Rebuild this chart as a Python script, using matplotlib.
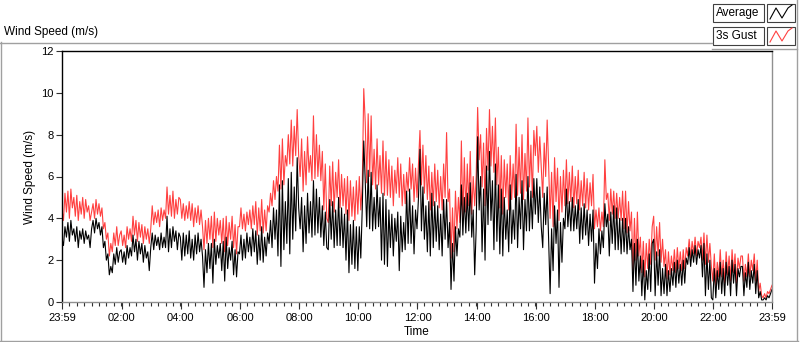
import numpy as np
import matplotlib
matplotlib.use("Agg")
from matplotlib import pyplot as plt
from matplotlib.lines import Line2D
from matplotlib.patches import Rectangle

plt.rcParams['font.family'] = ['Liberation Sans', 'DejaVu Sans']

# samples every 3 minutes, starting at 23:59 of the day before (one row = one hour)
minutes = np.arange(0, 1441, 3)

gust = [
    4.4, 3.9, 5.2, 4.3, 5.3, 4.0, 5.4, 4.5, 5.0, 4.1, 5.1, 3.9, 4.8, 4.2, 5.0, 4.0, 4.9, 4.3, 4.6, 3.9,
    4.3, 4.7, 4.0, 4.9, 4.2, 4.7, 4.1, 4.5, 3.5, 3.8, 3.0, 3.3, 2.2, 2.8, 2.4, 3.3, 2.7, 3.6, 2.7, 3.2,
    3.4, 2.7, 3.2, 2.6, 3.6, 3.0, 3.5, 2.9, 4.1, 3.2, 3.9, 2.9, 3.8, 3.1, 3.7, 2.8, 3.6, 3.0, 3.5, 2.8,
    3.5, 4.6, 3.7, 4.3, 3.8, 4.4, 3.6, 4.5, 3.9, 4.4, 4.0, 5.5, 4.2, 5.1, 4.1, 5.3, 4.0, 4.9, 4.2, 5.0,
    4.9, 4.0, 4.7, 3.9, 4.6, 4.0, 4.8, 3.9, 4.7, 3.6, 4.5, 3.8, 4.6, 3.7, 4.4, 3.6, 2.5, 3.9, 2.8, 4.0,
    3.0, 4.1, 2.6, 4.3, 2.9, 4.0, 3.2, 3.9, 2.8, 4.0, 2.4, 4.1, 2.7, 3.8, 3.0, 4.1, 2.6, 3.7, 2.3, 3.6,
    3.6, 4.5, 3.5, 4.2, 3.4, 4.3, 3.7, 4.4, 3.5, 4.6, 3.7, 4.8, 3.2, 4.5, 3.4, 4.9, 3.3, 4.4, 3.4, 4.6,
    4.3, 5.2, 4.6, 5.8, 4.9, 6.0, 5.3, 7.5, 5.4, 7.8, 5.6, 7.0, 6.5, 8.0, 6.6, 8.7, 6.5, 8.4, 7.0, 9.2,
    7.0, 6.0, 7.8, 5.3, 7.2, 5.6, 7.9, 6.2, 7.0, 5.8, 8.9, 5.9, 8.0, 6.0, 7.5, 5.8, 7.2, 4.4, 6.6, 4.0,
    3.8, 6.5, 4.6, 6.7, 4.3, 6.2, 5.0, 6.8, 4.5, 6.1, 4.6, 5.9, 4.2, 6.0, 3.9, 5.8, 4.1, 5.5, 3.9, 5.8,
    4.2, 6.0, 4.4, 5.6, 10.2, 8.6, 5.7, 9.0, 6.0, 8.9, 5.6, 7.3, 5.4, 7.8, 5.6, 7.0, 5.2, 7.7, 5.1, 7.2,
    5.1, 6.8, 5.0, 6.5, 4.6, 6.3, 5.2, 6.9, 5.0, 6.6, 4.6, 6.1, 4.7, 6.2, 5.3, 6.9, 5.4, 6.6, 4.8, 6.4,
    5.0, 6.6, 8.2, 5.6, 7.5, 5.2, 7.0, 4.9, 6.5, 4.4, 6.2, 4.6, 6.6, 4.8, 6.3, 4.5, 6.0, 4.4, 6.6, 5.0,
    8.1, 4.8, 5.4, 2.1, 4.5, 2.4, 5.3, 3.5, 5.0, 3.8, 7.7, 4.0, 6.9, 4.3, 6.6, 4.6, 7.2, 4.2, 6.0, 4.6,
    6.0, 9.3, 6.8, 8.0, 5.5, 7.6, 4.6, 8.3, 6.3, 9.2, 6.5, 8.4, 6.2, 8.8, 5.6, 7.4, 4.5, 7.0, 4.2, 6.8,
    5.0, 6.6, 4.4, 7.0, 4.9, 6.6, 5.0, 8.5, 5.1, 7.4, 5.2, 8.0, 4.9, 7.1, 5.3, 8.8, 5.5, 7.5, 5.0, 8.2,
    7.0, 8.4, 6.2, 7.9, 6.4, 5.0, 7.6, 6.0, 8.7, 6.5, 4.0, 6.2, 3.6, 6.9, 4.8, 6.4, 3.9, 6.0, 4.3, 6.3,
    4.6, 6.8, 4.7, 6.2, 4.8, 6.5, 4.5, 6.0, 4.7, 6.3, 4.4, 5.8, 4.6, 6.2, 4.5, 5.9, 4.4, 5.7, 4.6, 6.1,
    3.5, 4.4, 3.6, 4.5, 3.4, 4.3, 3.6, 6.8, 4.9, 5.2, 3.9, 5.4, 4.2, 5.3, 4.0, 5.2, 4.0, 5.0, 3.9, 5.3,
    3.5, 5.3, 3.3, 4.8, 3.4, 4.3, 1.5, 4.0, 2.0, 4.3, 2.2, 3.1, 1.4, 2.9, 1.2, 2.8, 1.6, 3.0, 1.8, 3.6,
    4.1, 2.0, 3.6, 2.2, 3.8, 1.9, 3.0, 1.7, 2.5, 1.1, 2.4, 1.3, 2.2, 1.5, 2.5, 1.4, 2.6, 1.6, 2.4, 1.5,
    2.5, 1.6, 2.6, 2.2, 3.0, 2.1, 2.9, 2.3, 3.1, 2.2, 2.9, 2.6, 3.1, 2.0, 3.3, 1.8, 3.2, 1.9, 2.8, 1.7,
    1.0, 2.3, 0.8, 1.9, 1.2, 2.5, 1.2, 2.0, 0.9, 2.4, 1.3, 2.2, 1.0, 2.5, 1.4, 2.3, 0.9, 2.1, 1.6, 2.2,
    2.2, 1.0, 1.8, 1.2, 2.3, 1.2, 2.0, 1.5, 2.3, 1.0, 2.0, 0.5, 0.9, 0.3, 0.2, 0.4, 0.2, 0.5, 0.4, 0.6,
    0.8,
]

average = [
    3.0, 2.7, 3.6, 3.1, 3.8, 2.9, 3.9, 3.2, 3.5, 2.9, 3.6, 2.6, 3.4, 3.0, 3.5, 2.8, 3.4, 3.0, 3.2, 2.6,
    3.5, 3.9, 3.3, 4.0, 3.5, 3.8, 3.2, 3.6, 2.6, 2.9, 2.0, 2.3, 1.3, 1.7, 1.4, 2.3, 1.8, 2.6, 1.9, 2.4,
    2.5, 1.9, 2.4, 1.8, 2.7, 2.1, 2.6, 2.2, 3.2, 2.4, 3.0, 2.0, 2.9, 2.3, 2.8, 1.9, 2.7, 2.1, 2.4, 1.5,
    2.6, 3.3, 2.5, 3.2, 2.7, 3.1, 2.5, 3.3, 2.6, 3.1, 2.6, 4.1, 2.4, 3.5, 2.6, 3.6, 2.9, 3.4, 2.5, 3.3,
    3.1, 2.0, 3.3, 2.2, 3.2, 2.3, 3.4, 2.1, 3.0, 2.0, 3.2, 2.3, 3.3, 2.4, 3.0, 2.2, 0.7, 2.5, 1.4, 2.8,
    1.6, 2.8, 0.9, 3.0, 1.8, 2.7, 2.1, 2.8, 1.5, 2.9, 1.0, 3.1, 1.6, 2.6, 2.0, 2.9, 1.3, 2.5, 1.2, 2.4,
    2.3, 3.2, 2.0, 3.0, 2.1, 3.3, 2.4, 3.1, 2.2, 3.5, 2.4, 3.4, 1.8, 3.2, 2.0, 3.6, 1.9, 3.1, 2.2, 3.3,
    2.8, 3.9, 2.6, 4.5, 3.0, 4.4, 2.2, 5.6, 1.7, 5.8, 2.5, 4.8, 2.8, 5.9, 2.3, 6.2, 3.0, 5.5, 3.4, 6.9,
    4.5, 3.5, 5.0, 2.4, 4.6, 2.8, 5.2, 3.3, 4.8, 3.1, 5.8, 3.2, 5.4, 3.3, 5.0, 3.1, 4.6, 2.7, 4.3, 2.6,
    2.5, 4.9, 3.0, 4.8, 2.6, 4.4, 2.7, 5.0, 2.7, 4.5, 2.6, 4.2, 2.0, 4.4, 1.4, 3.7, 1.8, 3.9, 1.6, 3.6,
    1.5, 3.6, 2.1, 4.5, 7.7, 5.8, 3.6, 6.3, 3.5, 6.2, 3.4, 5.0, 3.5, 5.6, 3.6, 5.0, 2.0, 5.2, 1.8, 4.9,
    1.7, 4.4, 2.6, 4.2, 2.2, 4.0, 2.9, 4.3, 1.5, 4.1, 2.4, 3.8, 2.5, 5.3, 2.8, 5.4, 2.8, 4.6, 2.3, 4.4,
    3.5, 5.0, 7.3, 3.4, 5.5, 3.0, 4.6, 2.4, 4.8, 2.2, 5.2, 2.6, 4.8, 2.9, 4.6, 2.5, 4.2, 2.2, 4.9, 3.0,
    4.9, 2.6, 3.8, 0.6, 2.8, 1.0, 3.6, 2.2, 3.5, 3.1, 5.6, 3.2, 5.0, 3.3, 5.2, 3.4, 5.7, 3.1, 4.4, 1.3,
    3.5, 7.9, 4.4, 6.0, 2.4, 5.4, 2.0, 6.5, 3.7, 7.2, 3.9, 5.8, 2.5, 6.6, 2.9, 5.6, 2.3, 5.4, 2.2, 5.0,
    3.0, 4.4, 2.4, 5.6, 2.8, 4.4, 3.0, 6.1, 2.6, 5.0, 3.5, 5.8, 2.5, 4.9, 3.4, 6.0, 3.4, 5.3, 3.5, 5.9,
    4.2, 5.9, 3.8, 5.5, 3.6, 2.6, 5.2, 3.7, 5.5, 2.9, 0.4, 3.5, 1.5, 4.6, 2.8, 4.4, 0.7, 3.8, 1.9, 4.0,
    3.5, 5.4, 3.6, 4.8, 3.4, 5.0, 3.4, 4.6, 3.5, 4.9, 2.8, 4.5, 3.0, 4.7, 3.2, 4.4, 2.7, 4.2, 2.9, 4.4,
    0.9, 2.8, 1.6, 3.5, 2.3, 3.4, 2.6, 4.7, 3.6, 4.2, 2.2, 4.3, 2.8, 4.6, 2.5, 4.5, 2.5, 4.0, 2.3, 4.0,
    2.4, 4.0, 2.3, 3.6, 2.5, 3.0, 0.5, 2.8, 0.8, 3.0, 1.0, 2.2, 0.3, 2.0, 0.1, 1.5, 0.6, 2.3, 0.5, 2.8,
    3.0, 0.3, 2.4, 0.8, 2.5, 0.3, 1.6, 0.4, 1.8, 0.3, 1.5, 0.5, 1.6, 0.8, 1.9, 0.7, 2.0, 0.9, 1.8, 0.8,
    2.0, 0.9, 2.1, 1.8, 2.6, 1.7, 2.5, 1.9, 2.7, 1.8, 2.5, 2.1, 2.7, 1.2, 2.8, 0.3, 2.3, 0.6, 2.0, 0.2,
    0.1, 1.6, 0.2, 1.5, 0.6, 1.9, 0.4, 1.6, 0.3, 1.9, 0.8, 1.7, 0.3, 2.0, 0.9, 1.8, 0.3, 1.6, 1.2, 1.7,
    1.7, 0.3, 1.4, 0.7, 1.9, 0.6, 1.5, 0.9, 1.8, 0.4, 1.5, 0.2, 0.5, 0.1, 0.1, 0.2, 0.1, 0.3, 0.2, 0.4,
    0.6,
]

tick_pos = [0, 121, 241, 361, 481, 601, 721, 841, 961, 1081, 1201, 1321, 1440]
tick_lab = ['23:59', '02:00', '04:00', '06:00', '08:00', '10:00', '12:00',
            '14:00', '16:00', '18:00', '20:00', '22:00', '23:59']

W, H = 800, 342
fig = plt.figure(figsize=(8, 3.42), dpi=100)
fig.patch.set_facecolor('white')


def fx(x):
    return x / W


def fy(y):
    return 1 - y / H


ax = fig.add_axes([fx(62), fy(302), fx(710), 251 / H])
ax.plot(minutes, gust, color='#ff4040', lw=0.8)
ax.plot(minutes, average, color='black', lw=0.8)
ax.set_xlim(0, 1440)
ax.set_ylim(0, 12)
ax.set_yticks(range(0, 13, 2))
ax.set_xticks(tick_pos)
ax.set_xticklabels(tick_lab)
ax.set_xticks(np.arange(0, 1441, 15), minor=True)
ax.tick_params(labelsize=8, colors='#303030', labelcolor='black', length=4, width=0.8, pad=2)
ax.tick_params(axis='x', which='major', length=5, pad=3)
ax.tick_params(axis='x', which='minor', length=3, width=0.8, color='#303030')
ax.spines['left'].set_color('black')
ax.spines['top'].set_color('black')
ax.spines['right'].set_color('#909090')
ax.spines['bottom'].set_color('#909090')
for s in ax.spines.values():
    s.set_linewidth(1)
ax.set_xlabel('Time', fontsize=8.5, labelpad=2)
ax.set_ylabel('Wind Speed (m/s)', fontsize=8.5, labelpad=4)

# outer frame of the chart panel
gray = '#a0a0a0'
frame = [((0, 712), (42.5, 42.5)), ((0.5, 0.5), (42, 341)), ((0, 798), (341, 341)),
         ((797, 797), (0, 341)), ((712, 797), (48.5, 48.5))]
for xs, ys in frame:
    fig.add_artist(Line2D([fx(v) for v in xs], [fy(v) for v in ys],
                          transform=fig.transFigure, color=gray, lw=1))

fig.text(fx(4), fy(32), 'Wind Speed (m/s)', fontsize=8.5, va='center', ha='left')

# legend boxes
for (label, col, y0) in [('Average', 'black', 4), ('3s Gust', '#ff4040', 27)]:
    fig.add_artist(Rectangle((fx(713), fy(y0 + 18)), fx(51), 18 / H, transform=fig.transFigure,
                             facecolor='white', edgecolor='#404040', lw=0.8))
    fig.text(fx(716), fy(y0 + 9), label, fontsize=8.5, va='center', ha='left')
    fig.add_artist(Rectangle((fx(767), fy(y0 + 18)), fx(28), 18 / H, transform=fig.transFigure,
                             facecolor='white', edgecolor='#404040', lw=0.8))
    zx = [770, 776, 782, 788, 792]
    zy = [y0 + 15, y0 + 4, y0 + 14, y0 + 4, y0 + 1]
    fig.add_artist(Line2D([fx(v) for v in zx], [fy(v) for v in zy],
                          transform=fig.transFigure, color=col, lw=0.8))

fig.savefig('out.png', dpi=100)
